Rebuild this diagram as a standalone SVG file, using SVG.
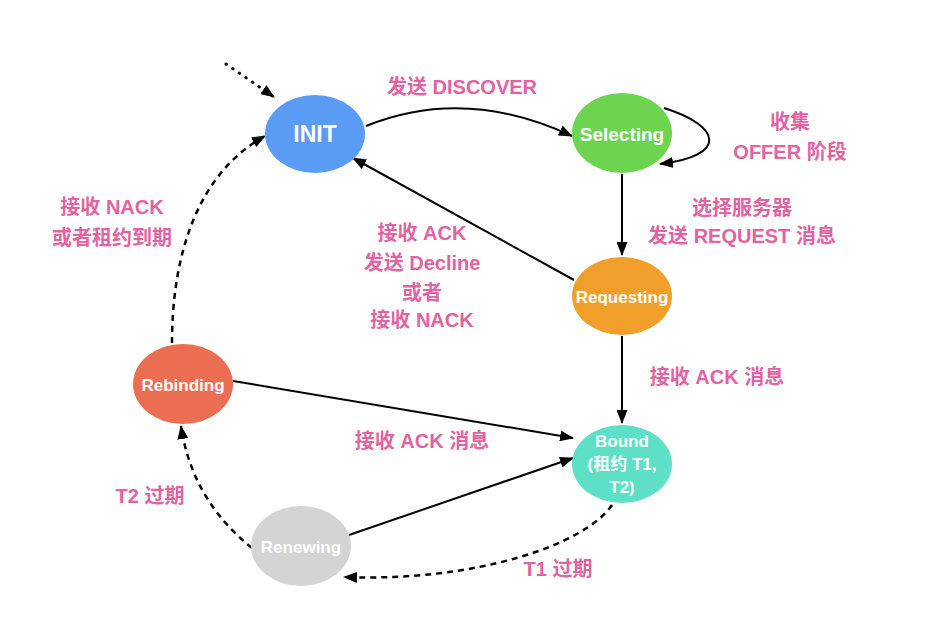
<svg xmlns="http://www.w3.org/2000/svg" width="925" height="617" viewBox="0 0 925 617">
<style>
.lbl{font-family:"Liberation Sans","Noto Sans CJK SC",sans-serif;font-weight:bold;font-size:20px;fill:#e262a2;text-anchor:middle;dominant-baseline:central}
.nt{font-family:"Liberation Sans","Noto Sans CJK SC",sans-serif;font-weight:bold;font-size:17px;fill:#ffffff;text-anchor:middle;dominant-baseline:central}
.e{fill:none;stroke:#000;stroke-width:2}
.d{fill:none;stroke:#000;stroke-width:2.5;stroke-dasharray:6 5}
.dot{fill:none;stroke:#000;stroke-width:3;stroke-dasharray:0.5 7.5;stroke-linecap:round}
</style>
<defs>
<marker id="ah" viewBox="0 0 14 11" refX="13" refY="5.5" markerWidth="14" markerHeight="11" markerUnits="userSpaceOnUse" orient="auto">
<path d="M0,0 L14,5.5 L0,11 Z" fill="#000"/>
</marker>
</defs>
<rect width="925" height="617" fill="#ffffff"/>
<g id="connectors">
<path class="dot" d="M226,64 L274,97" marker-end="url(#ah)"/>
<path class="e" d="M366,126 Q465,86 572,136" marker-end="url(#ah)"/>
<path class="e" d="M664,108 C722,126 728,156 660,164" marker-end="url(#ah)"/>
<path class="e" d="M622,174 L622,255" marker-end="url(#ah)"/>
<path class="e" d="M574,280 L353,158" marker-end="url(#ah)"/>
<path class="e" d="M622,336 L622,423" marker-end="url(#ah)"/>
<path class="e" d="M233,381 L573,438" marker-end="url(#ah)"/>
<path class="e" d="M349,535 L573,458" marker-end="url(#ah)"/>
<path class="d" d="M612,505 C585,545 475,582 344,577" marker-end="url(#ah)"/>
<path class="d" d="M252,548 Q192,500 181,426" marker-end="url(#ah)"/>
<path class="d" d="M172,343 C172,250 200,172 265,136" marker-end="url(#ah)"/>
</g>
<g id="INIT">
<ellipse cx="315" cy="134" rx="50" ry="39" fill="#5a9bf5"/>
<text class="nt" x="315" y="134" style="font-size:23px">INIT</text>
</g>
<g id="Selecting">
<ellipse cx="622" cy="133" rx="50" ry="40" fill="#6dd44f"/>
<text class="nt" x="622" y="134" style="font-size:19px">Selecting</text>
</g>
<g id="Requesting">
<ellipse cx="622" cy="296" rx="50" ry="39" fill="#ef9f2a"/>
<text class="nt" x="622" y="297">Requesting</text>
</g>
<g id="Bound">
<ellipse cx="622" cy="464" rx="50" ry="39" fill="#5ee0c7"/>
<text class="nt" x="622" y="441">Bound</text>
<text class="nt" x="622" y="464">(租约 T1,</text>
<text class="nt" x="622" y="487">T2)</text>
</g>
<g id="Rebinding">
<ellipse cx="183" cy="384" rx="50" ry="40" fill="#ec6e52"/>
<text class="nt" x="183" y="385">Rebinding</text>
</g>
<g id="Renewing">
<ellipse cx="301" cy="546" rx="50" ry="40" fill="#d4d4d4"/>
<text class="nt" x="301" y="547">Renewing</text>
</g>
<g id="labels">
<text class="lbl" x="462" y="87">发送 DISCOVER</text>
<text class="lbl" x="790" y="122">收集</text>
<text class="lbl" x="790" y="152">OFFER 阶段</text>
<text class="lbl" x="742" y="208">选择服务器</text>
<text class="lbl" x="742" y="236">发送 REQUEST 消息</text>
<text class="lbl" x="422" y="233">接收 ACK</text>
<text class="lbl" x="422" y="263">发送 Decline</text>
<text class="lbl" x="422" y="293">或者</text>
<text class="lbl" x="422" y="320">接收 NACK</text>
<text class="lbl" x="717" y="377">接收 ACK 消息</text>
<text class="lbl" x="422" y="441">接收 ACK 消息</text>
<text class="lbl" x="112" y="207">接收 NACK</text>
<text class="lbl" x="112" y="238">或者租约到期</text>
<text class="lbl" x="150" y="496">T2 过期</text>
<text class="lbl" x="558" y="569">T1 过期</text>
</g>
</svg>
